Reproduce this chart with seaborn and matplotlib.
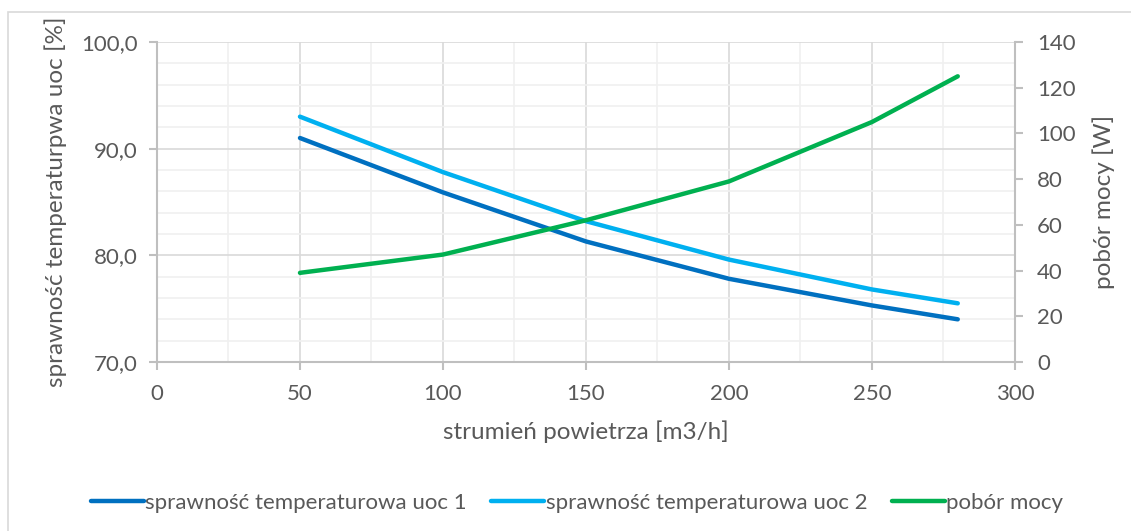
import numpy as np
import pandas as pd
import matplotlib
matplotlib.use("Agg")
import matplotlib.pyplot as plt
import matplotlib.ticker as mticker
from matplotlib.lines import Line2D
from matplotlib.patches import Rectangle
import seaborn as sns

# data
airflow = [50, 100, 150, 200, 250, 280]
eff_uoc1 = [91.0, 85.9, 81.3, 77.8, 75.3, 74.0]
eff_uoc2 = [93.0, 87.8, 83.2, 79.6, 76.8, 75.5]
power = [39, 47, 62, 79, 105, 125]

labels = ["sprawność temperaturowa uoc 1", "sprawność temperaturowa uoc 2", "pobór mocy"]
colors = ["#0070C0", "#00B0F0", "#00B050"]

df = pd.DataFrame({"x": airflow, "uoc1": eff_uoc1, "uoc2": eff_uoc2, "moc": power})

sns.set_style("white")
plt.rcParams["font.family"] = ["Lato", "DejaVu Sans"]
txt = "#595959"
grid_major = "#d9d9d9"
grid_minor = "#f0f0f0"

fig = plt.figure(figsize=(11.31, 5.31), dpi=100)
ax = fig.add_axes([0.1388, 0.3183, 0.7586, 0.6026])
ax2 = ax.twinx()

# chart frame
fig.patches.append(Rectangle((8 / 1131, -0.05), 1.1, 1 - 12 / 531 + 0.05,
                             transform=fig.transFigure, fill=False,
                             edgecolor="#d9d9d9", linewidth=1.2))

sns.lineplot(data=df, x="x", y="uoc1", ax=ax, color=colors[0], linewidth=3.2, legend=False)
sns.lineplot(data=df, x="x", y="uoc2", ax=ax, color=colors[1], linewidth=3.2, legend=False)
sns.lineplot(data=df, x="x", y="moc", ax=ax2, color=colors[2], linewidth=3.2, legend=False)

ax.set_xlim(0, 300)
ax.set_ylim(70, 100)
ax2.set_ylim(0, 140)
ax.xaxis.set_major_locator(mticker.MultipleLocator(50))
ax.xaxis.set_minor_locator(mticker.MultipleLocator(25))
ax.yaxis.set_major_locator(mticker.MultipleLocator(10))
ax.yaxis.set_minor_locator(mticker.MultipleLocator(2))
ax2.yaxis.set_major_locator(mticker.MultipleLocator(20))
ax.yaxis.set_major_formatter(mticker.FuncFormatter(lambda v, p: f"{v:.1f}".replace(".", ",")))

ax.grid(which="major", color=grid_major, linewidth=1.2)
ax.grid(which="minor", color=grid_minor, linewidth=1.2)
ax.set_axisbelow(True)
ax2.grid(False)

for a in (ax, ax2):
    for s in a.spines.values():
        s.set_visible(False)
ax.spines["left"].set_visible(True)
ax.spines["left"].set_color("#bfbfbf")
ax.spines["bottom"].set_visible(True)
ax.spines["bottom"].set_color("#bfbfbf")
ax2.spines["right"].set_visible(True)
ax2.spines["right"].set_color("#bfbfbf")
for s in ("left", "bottom"):
    ax.spines[s].set_linewidth(1.5)
ax2.spines["right"].set_linewidth(1.5)

ax.tick_params(axis="both", which="major", length=6, color="#bfbfbf", width=1.5,
               labelsize=16, labelcolor=txt, direction="out", bottom=True, left=True)
ax.tick_params(axis="x", which="major", pad=10)
ax.tick_params(axis="y", which="major", pad=8)
ax.tick_params(axis="both", which="minor", length=0)
ax2.tick_params(axis="y", which="major", length=6, color="#bfbfbf", width=1.5,
                labelsize=16, labelcolor=txt, pad=10, direction="out", right=True)

ax.set_xlabel("strumień powietrza [m3/h]", fontsize=17.5, color=txt, labelpad=12)
ax.set_ylabel("sprawność temperaturpwa uoc [%]", fontsize=17.5, color=txt, labelpad=10)
ax2.set_ylabel("pobór mocy [W]", fontsize=17.5, color=txt, labelpad=12)

handles = [Line2D([0], [0], color=c, linewidth=3.2) for c in colors]
fig.legend(handles, labels, loc="center", bbox_to_anchor=(0.51, 0.053), ncol=3,
           frameon=False, fontsize=16, labelcolor=txt, handlelength=2.4,
           handletextpad=0.05, columnspacing=1.1)

fig.savefig("out.png", dpi=100)
